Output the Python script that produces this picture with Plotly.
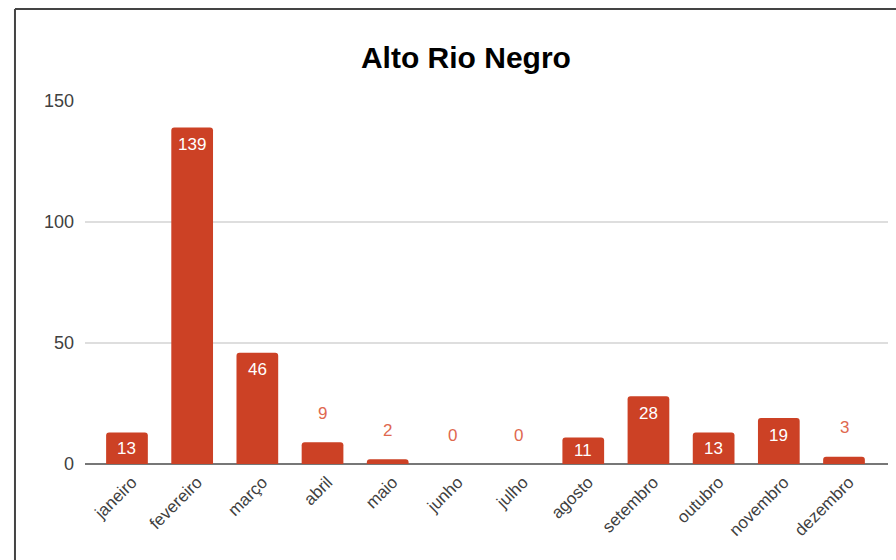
import plotly.graph_objects as go

months = ["janeiro", "fevereiro", "março", "abril", "maio", "junho",
          "julho", "agosto", "setembro", "outubro", "novembro", "dezembro"]
values = [13, 139, 46, 9, 2, 0, 0, 11, 28, 13, 19, 3]
y_ticks = [0, 50, 100, 150]

BAR = "#cc4125"
FONT = "Liberation Sans, Arial, sans-serif"

fig = go.Figure()
fig.add_trace(go.Bar(
    x=list(range(len(months))), y=values,
    marker=dict(color=BAR, cornerradius=3, line=dict(width=0)),
    width=0.64,
    hoverinfo="skip",
))

plot_h = 363
px_per_unit = plot_h / 150
annotations = []
for i, v in enumerate(values):
    bar_px = v * px_per_unit
    if bar_px >= 24:
        shift = -min(17, bar_px / 2)
        annotations.append(dict(x=i, y=v, xref="x", yref="y", text=str(v),
                                showarrow=False, yshift=shift,
                                font=dict(family=FONT, size=17, color="white")))
    else:
        annotations.append(dict(x=i, y=v, xref="x", yref="y", text=str(v),
                                showarrow=False, yshift=29,
                                font=dict(family=FONT, size=17, color="#e0684f")))

fig.update_layout(
    width=896, height=560,
    margin=dict(l=85, r=8, t=101, b=96),
    paper_bgcolor="white", plot_bgcolor="white",
    showlegend=False,
    title=dict(text="<b>Alto Rio Negro</b>", x=0.52, xanchor="center",
               y=1 - 57 / 560, yanchor="middle",
               font=dict(family=FONT, size=30, color="#000000")),
    xaxis=dict(
        tickmode="array", tickvals=list(range(len(months))), ticktext=months,
        tickangle=-45, range=[-0.644, 11.675],
        showgrid=False, zeroline=False, showline=False, ticks="",
        ticklabelshift=5, ticklabelstandoff=4,
        tickfont=dict(family=FONT, size=17, color="#404040"),
    ),
    yaxis=dict(
        range=[0, 150], tickmode="array", tickvals=y_ticks,
        showgrid=True, gridcolor="#dedede", gridwidth=1.5,
        zeroline=True, zerolinecolor="#777777", zerolinewidth=2,
        showline=False, ticks="", ticklabelstandoff=10,
        tickfont=dict(family=FONT, size=18, color="#404040"),
    ),
    annotations=annotations,
    shapes=[
        dict(type="line", xref="paper", yref="paper", x0=-0.0872, x1=1.2,
             y0=1.2534, y1=1.2534, line=dict(color="#444444", width=2)),
        dict(type="line", xref="paper", yref="paper", x0=-0.0872, x1=-0.0872,
             y0=1.2534, y1=-0.4, line=dict(color="#444444", width=2)),
    ],
)

fig.write_html("out.html")
